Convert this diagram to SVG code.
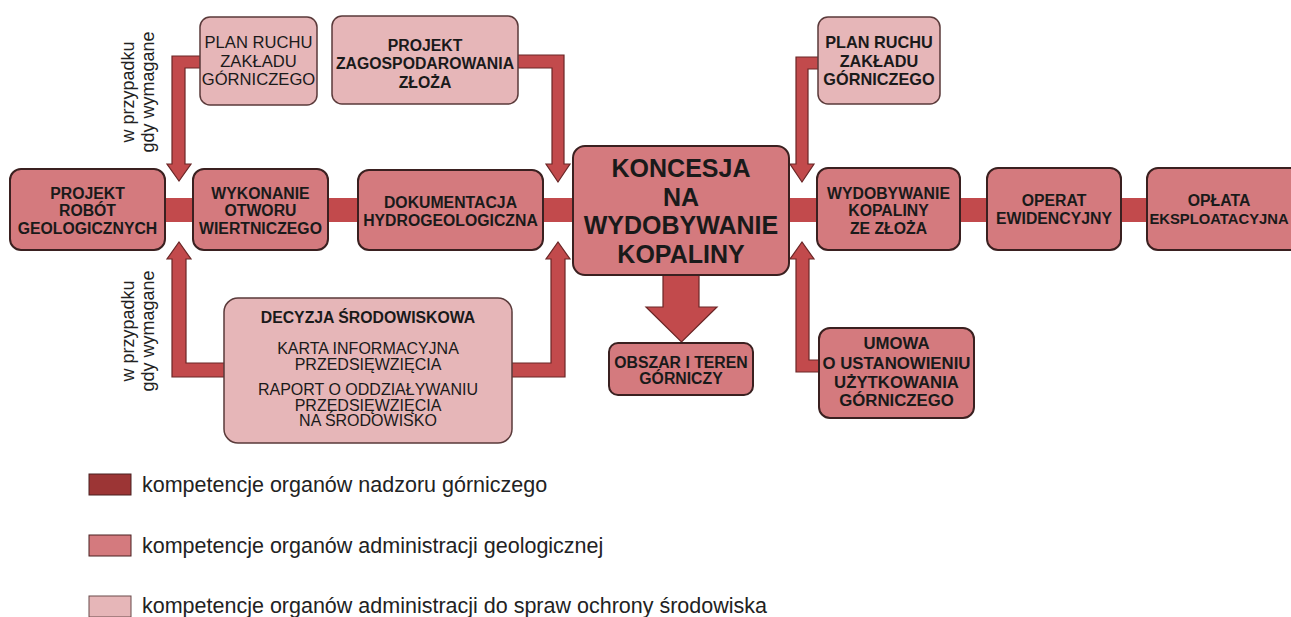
<svg xmlns="http://www.w3.org/2000/svg" width="1291" height="617" viewBox="0 0 1291 617">
<style>
.box{stroke:#3a2020;stroke-width:2}
.geo{fill:#d47a7e}
.env{fill:#e6b6b8;stroke:#5a3a3a;stroke-width:1.5}
.con{fill:#c24a4c;stroke:#6a2626;stroke-width:1.2}
.bar{fill:#c24a4c}
text{font-family:"Liberation Sans",Arial,sans-serif;fill:#1a1a1a;text-anchor:middle}
.b{font-weight:bold;font-size:15.8px}
.r{font-size:16px}
.k{font-weight:bold;font-size:25px}
.side{font-size:18px;fill:#222}
.leg{font-size:21.5px;text-anchor:start;fill:#222}
</style>
<rect width="1291" height="617" fill="#ffffff"/>
<g id="connectors">
<rect class="bar" x="160" y="198" width="40" height="24"/>
<rect class="bar" x="323" y="198" width="40" height="24"/>
<rect class="bar" x="538" y="198" width="40" height="24"/>
<rect class="bar" x="784" y="198" width="38" height="24"/>
<rect class="bar" x="955" y="198" width="37" height="24"/>
<rect class="bar" x="1116" y="198" width="36" height="24"/>
<path class="con" d="M205,56 L172,56 L172,164 L167,164 L179,181 L191,164 L185,164 L185,68 L205,68 Z"/>
<path class="con" d="M229,377 L172,377 L172,259 L167,259 L179,242 L191,259 L186,259 L186,363 L229,363 Z"/>
<path class="con" d="M512,55 L564,55 L564,164 L570,164 L558,182 L546,164 L552,164 L552,68 L512,68 Z"/>
<path class="con" d="M507,363 L551,363 L551,259 L546,259 L558,242 L570,259 L565,259 L565,377 L507,377 Z"/>
<path class="con" d="M824,57 L796,57 L796,164 L790,164 L802,182 L814,164 L808,164 L808,69 L824,69 Z"/>
<path class="con" d="M825,372 L796,372 L796,259 L790,259 L802,242 L814,259 L809,259 L809,360 L825,360 Z"/>
<path class="con" d="M663,270 L663,307 L646,307 L681.5,342 L717,307 L699,307 L699,270 Z"/>
</g>
<g id="projekt-robot">
<rect class="box geo" x="10" y="169" width="155" height="81" rx="11"/>
<text class="b" x="87.5" y="198.5">PROJEKT</text>
<text class="b" x="87.5" y="216">ROBÓT</text>
<text class="b" x="87.5" y="233.5">GEOLOGICZNYCH</text>
</g>
<g id="wykonanie">
<rect class="box geo" x="193" y="169" width="135" height="81" rx="11"/>
<text class="b" x="260.5" y="198.5">WYKONANIE</text>
<text class="b" x="260.5" y="216">OTWORU</text>
<text class="b" x="260.5" y="233.5">WIERTNICZEGO</text>
</g>
<g id="dokumentacja">
<rect class="box geo" x="358" y="170" width="185" height="80" rx="11"/>
<text class="b" x="450.5" y="208">DOKUMENTACJA</text>
<text class="b" x="450.5" y="226">HYDROGEOLOGICZNA</text>
</g>
<g id="koncesja">
<rect class="box geo" x="573" y="146" width="216" height="129" rx="12"/>
<text class="k" x="681" y="177">KONCESJA</text>
<text class="k" x="681" y="205.5">NA</text>
<text class="k" x="681" y="234">WYDOBYWANIE</text>
<text class="k" x="681" y="262.5">KOPALINY</text>
</g>
<g id="obszar">
<rect class="box geo" x="609" y="343" width="144" height="52" rx="9"/>
<text class="b" x="681" y="367.5">OBSZAR I TEREN</text>
<text class="b" x="681" y="384">GÓRNICZY</text>
</g>
<g id="wydobywanie">
<rect class="box geo" x="817" y="168" width="143" height="82" rx="11"/>
<text class="b" x="888.5" y="198.5">WYDOBYWANIE</text>
<text class="b" x="888.5" y="216">KOPALINY</text>
<text class="b" x="888.5" y="233.5">ZE ZŁOŻA</text>
</g>
<g id="operat">
<rect class="box geo" x="987" y="168" width="134" height="82" rx="11"/>
<text class="b" x="1054" y="206">OPERAT</text>
<text class="b" x="1054" y="224">EWIDENCYJNY</text>
</g>
<g id="oplata">
<rect class="box geo" x="1147" y="168" width="170" height="82" rx="11"/>
<text class="b" x="1219" y="206">OPŁATA</text>
<text class="b" x="1219" y="224" style="font-size:14.8px">EKSPLOATACYJNA</text>
</g>
<g id="plan-ruchu-1">
<rect class="box env" x="200" y="17" width="117" height="88" rx="10"/>
<text class="r" x="258.5" y="48" style="font-size:16.6px">PLAN RUCHU</text>
<text class="r" x="258.5" y="66.5" style="font-size:16.6px">ZAKŁADU</text>
<text class="r" x="258.5" y="85" style="font-size:16.6px">GÓRNICZEGO</text>
</g>
<g id="projekt-zagospodarowania">
<rect class="box env" x="332" y="16" width="186" height="88" rx="10"/>
<text class="b" x="425" y="51">PROJEKT</text>
<text class="b" x="425" y="69">ZAGOSPODAROWANIA</text>
<text class="b" x="425" y="87.5">ZŁOŻA</text>
</g>
<g id="plan-ruchu-2">
<rect class="box env" x="818" y="17" width="122" height="87" rx="10"/>
<text class="b" x="879" y="48" style="font-size:16.3px">PLAN RUCHU</text>
<text class="b" x="879" y="66.5" style="font-size:16.3px">ZAKŁADU</text>
<text class="b" x="879" y="85" style="font-size:16.3px">GÓRNICZEGO</text>
</g>
<g id="umowa">
<rect class="box geo" x="819" y="328" width="155" height="90" rx="11"/>
<text class="b" x="896.5" y="349" style="font-size:16.8px">UMOWA</text>
<text class="b" x="896.5" y="368.5" style="font-size:16.8px">O USTANOWIENIU</text>
<text class="b" x="896.5" y="387.5" style="font-size:16.8px">UŻYTKOWANIA</text>
<text class="b" x="896.5" y="406" style="font-size:16.8px">GÓRNICZEGO</text>
</g>
<g id="decyzja">
<rect class="box env" x="224" y="298" width="288" height="145" rx="14"/>
<text class="b" x="368" y="323">DECYZJA ŚRODOWISKOWA</text>
<text class="r" x="368" y="354">KARTA INFORMACYJNA</text>
<text class="r" x="368" y="370">PRZEDSIĘWZIĘCIA</text>
<text class="r" x="368" y="395">RAPORT O ODDZIAŁYWANIU</text>
<text class="r" x="368" y="410.5">PRZEDSIĘWZIĘCIA</text>
<text class="r" x="368" y="426">NA ŚRODOWISKO</text>
</g>
<g id="side-labels">
<text class="side" transform="translate(134,92) rotate(-90)">w przypadku</text>
<text class="side" transform="translate(154,92) rotate(-90)">gdy wymagane</text>
<text class="side" transform="translate(134,331) rotate(-90)">w przypadku</text>
<text class="side" transform="translate(154,331) rotate(-90)">gdy wymagane</text>
</g>
<g id="legend">
<rect x="89" y="474" width="42" height="21" fill="#9c3535" stroke="#4a2020" stroke-width="1"/>
<text class="leg" x="142" y="492">kompetencje organów nadzoru górniczego</text>
<rect x="89" y="535" width="42" height="21" fill="#d47a7e" stroke="#4a2020" stroke-width="1"/>
<text class="leg" x="142" y="553">kompetencje organów administracji geologicznej</text>
<rect x="89" y="596" width="42" height="21" fill="#e6b6b8" stroke="#6a4a4a" stroke-width="1"/>
<text class="leg" x="142" y="613">kompetencje organów administracji do spraw ochrony środowiska</text>
</g>
</svg>
